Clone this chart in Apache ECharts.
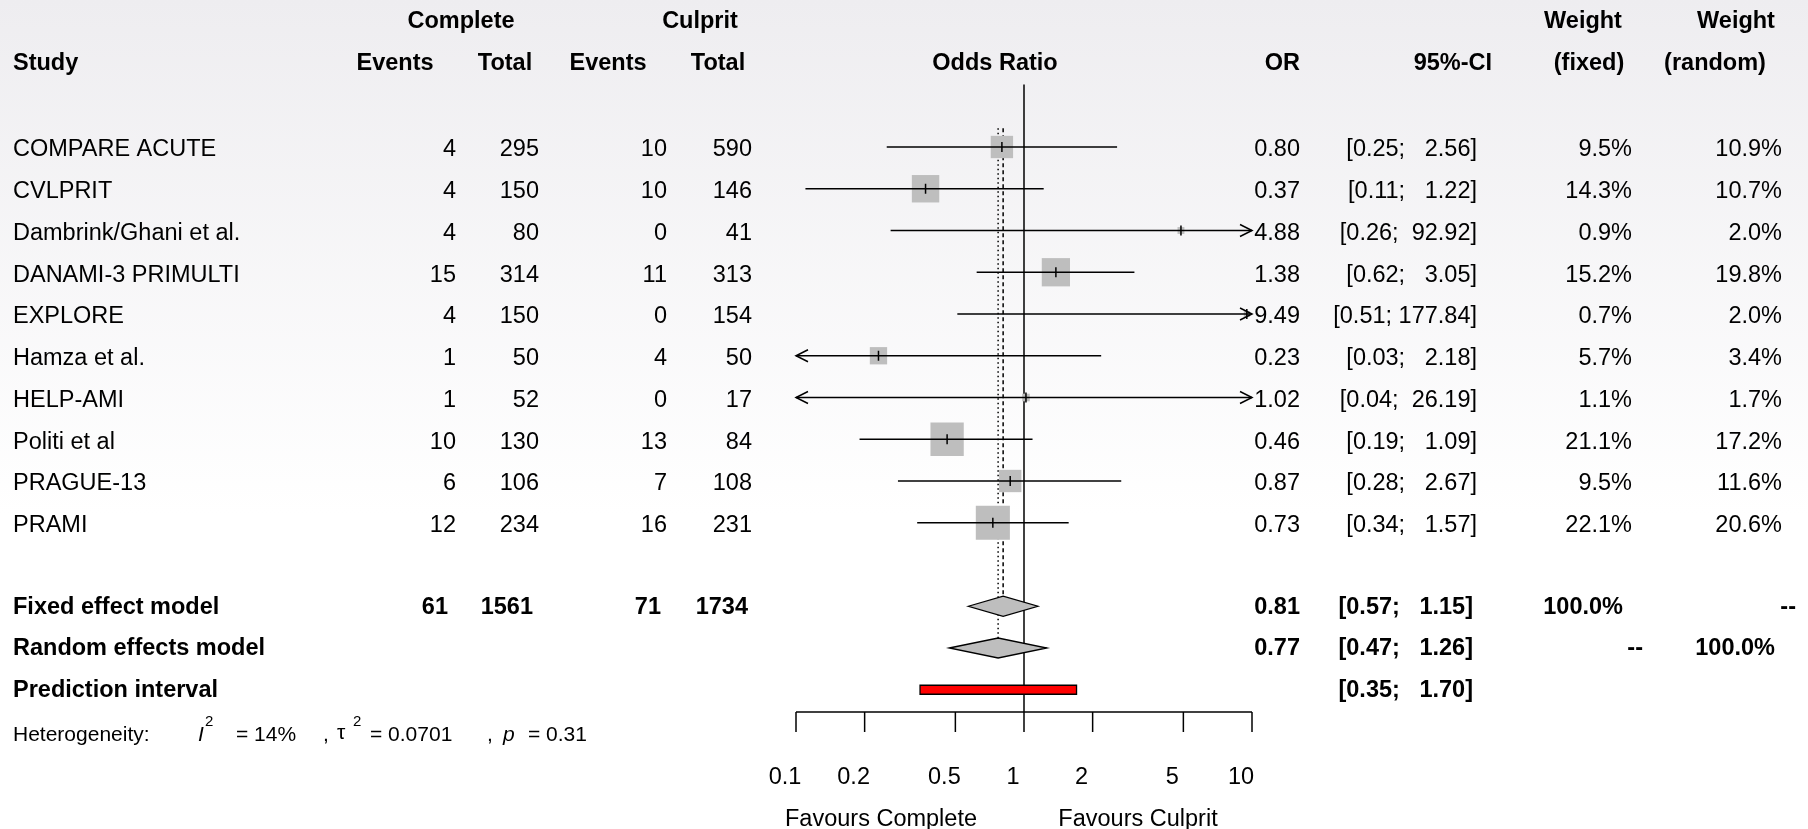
<!DOCTYPE html>
<html lang="en">
<head>
    <title>Forest plot: Complete vs Culprit revascularisation</title>
    <meta charset="utf-8">
    <script src="https://cdn.jsdelivr.net/npm/echarts@6.0.0/dist/echarts.min.js"></script>
    <style>
        html, body {
            margin: 0;
            padding: 0;
        }

        #chart {
            width: 1808px;
            height: 829px;
            background: linear-gradient(to bottom, #eeedf0 0%, #ffffff 62%);
        }
    </style>
</head>
<body>
<div id="chart"></div>
<script>
    // study data
    const studies = ['COMPARE ACUTE', 'CVLPRIT', 'Dambrink/Ghani et al.', 'DANAMI-3 PRIMULTI', 'EXPLORE',
        'Hamza et al.', 'HELP-AMI', 'Politi et al', 'PRAGUE-13', 'PRAMI'];
    const eventsComplete = [4, 4, 4, 15, 4, 1, 1, 10, 6, 12];
    const totalComplete = [295, 150, 80, 314, 150, 50, 52, 130, 106, 234];
    const eventsCulprit = [10, 10, 0, 11, 0, 4, 0, 13, 7, 16];
    const totalCulprit = [590, 146, 41, 313, 154, 50, 17, 84, 108, 231];
    const oddsRatio = [0.80, 0.37, 4.88, 1.38, 9.49, 0.23, 1.02, 0.46, 0.87, 0.73];
    const ciLower = [0.25, 0.11, 0.26, 0.62, 0.51, 0.03, 0.04, 0.19, 0.28, 0.34];
    const ciUpper = [2.56, 1.22, 92.92, 3.05, 177.84, 2.18, 26.19, 1.09, 2.67, 1.57];
    const weightFixed = [9.5, 14.3, 0.9, 15.2, 0.7, 5.7, 1.1, 21.1, 9.5, 22.1];
    const weightRandom = [10.9, 10.7, 2.0, 19.8, 2.0, 3.4, 1.7, 17.2, 11.6, 20.6];

    // pooled results: [OR, lower, upper]
    const fixedModel = [0.81, 0.57, 1.15];
    const randomModel = [0.77, 0.47, 1.26];
    const predictionInterval = [0.35, 1.70];
    const pooledTotals = [61, 1561, 71, 1734];
    const heterogeneity = ['14%', '0.0701', '0.31'];
    const axisTicks = [0.1, 0.2, 0.5, 1, 2, 5, 10];

    // layout
    const ROW0 = 147, ROWH = 41.75, H = 829;
    const yMin = -ROW0 / ROWH, yMax = (H - ROW0) / ROWH;
    const xMin = 0.1, xMax = 10;
    const FONT = "'Liberation Sans', Arial, Helvetica, sans-serif";
    const FS = 23.5;
    const TEXT_DY = 3;        // canvas 'middle' sits a little high for caps
    const SQ = 7.25;          // square side per sqrt(weight)
    const ROW_FIXED = 11, ROW_RANDOM = 12, ROW_PRED = 13, ROW_AXIS = (712 - ROW0) / ROWH;

    function ciText(lo, hi) {
        return '[' + lo.toFixed(2) + '; ' + hi.toFixed(2).padStart(6, ' ') + ']';
    }

    // table cells: x in page pixels, row index
    const cells = [];
    function cell(x, row, text, align, opts) {
        cells.push(Object.assign({x: x, row: row, text: String(text), align: align || 'right'}, opts || {}));
    }
    const HEAD = {bold: true, dy: 0};
    const B = {bold: true, dy: 1};

    // header
    cell(461, -3, 'Complete', 'center', HEAD);
    cell(700, -3, 'Culprit', 'center', HEAD);
    cell(1583, -3, 'Weight', 'center', HEAD);
    cell(1736, -3, 'Weight', 'center', HEAD);
    cell(13, -2, 'Study', 'left', HEAD);
    cell(395, -2, 'Events', 'center', HEAD);
    cell(505, -2, 'Total', 'center', HEAD);
    cell(608, -2, 'Events', 'center', HEAD);
    cell(718, -2, 'Total', 'center', HEAD);
    cell(995, -2, 'Odds Ratio', 'center', HEAD);
    cell(1300, -2, 'OR', 'right', HEAD);
    cell(1492, -2, '95%-CI', 'right', HEAD);
    cell(1589, -2, '(fixed)', 'center', HEAD);
    cell(1715, -2, '(random)', 'center', HEAD);

    // study rows
    studies.forEach(function (name, i) {
        cell(13, i, name, 'left');
        cell(456, i, eventsComplete[i]);
        cell(539, i, totalComplete[i]);
        cell(667, i, eventsCulprit[i]);
        cell(752, i, totalCulprit[i]);
        cell(1300, i, oddsRatio[i].toFixed(2));
        cell(1477, i, ciText(ciLower[i], ciUpper[i]));
        cell(1632, i, weightFixed[i].toFixed(1) + '%');
        cell(1782, i, weightRandom[i].toFixed(1) + '%');
    });

    // pooled rows
    cell(13, ROW_FIXED, 'Fixed effect model', 'left', B);
    cell(448, ROW_FIXED, pooledTotals[0], 'right', B);
    cell(533, ROW_FIXED, pooledTotals[1], 'right', B);
    cell(661, ROW_FIXED, pooledTotals[2], 'right', B);
    cell(748, ROW_FIXED, pooledTotals[3], 'right', B);
    cell(1300, ROW_FIXED, fixedModel[0].toFixed(2), 'right', B);
    cell(1473, ROW_FIXED, ciText(fixedModel[1], fixedModel[2]), 'right', B);
    cell(1623, ROW_FIXED, '100.0%', 'right', B);
    cell(1796, ROW_FIXED, '--', 'right', B);

    cell(13, ROW_RANDOM, 'Random effects model', 'left', B);
    cell(1300, ROW_RANDOM, randomModel[0].toFixed(2), 'right', B);
    cell(1473, ROW_RANDOM, ciText(randomModel[1], randomModel[2]), 'right', B);
    cell(1643, ROW_RANDOM, '--', 'right', B);
    cell(1775, ROW_RANDOM, '100.0%', 'right', B);

    cell(13, ROW_PRED, 'Prediction interval', 'left', B);
    cell(1473, ROW_PRED, ciText(predictionInterval[0], predictionInterval[1]), 'right', B);

    // heterogeneity line
    const HS = 21, SUP = 15;
    cell(13, 14, 'Heterogeneity:', 'left', {size: HS, dy: 4});
    cell(198, 14, 'I', 'left', {size: HS, dy: 4, italic: true});
    cell(205, 14, '2', 'left', {size: SUP, dy: -10});
    cell(236, 14, '= ' + heterogeneity[0], 'left', {size: HS, dy: 4});
    cell(323, 14, ',', 'left', {size: HS, dy: 4});
    cell(337, 14, 'τ', 'left', {size: HS, dy: 2});
    cell(353, 14, '2', 'left', {size: SUP, dy: -10});
    cell(370, 14, '= ' + heterogeneity[1], 'left', {size: HS, dy: 4});
    cell(487, 14, ',', 'left', {size: HS, dy: 4});
    cell(503, 14, 'p', 'left', {size: HS, dy: 4, italic: true});
    cell(528, 14, '= ' + heterogeneity[2], 'left', {size: HS, dy: 4});

    // axis annotations
    cell(881, 16, 'Favours Complete', 'center', {dy: 5});
    cell(1138, 16, 'Favours Culprit', 'center', {dy: 5});

    function clampX(v) {
        return Math.min(Math.max(v, xMin), xMax);
    }

    function arrowHead(x, y, dir) {
        return {
            type: 'polyline',
            shape: {points: [[x - dir * 12, y - 6], [x, y], [x - dir * 12, y + 6]]},
            style: {stroke: '#000', lineWidth: 1.5, fill: null}
        };
    }

    function renderStudy(params, api) {
        const est = api.value(0), row = api.value(1), lo = api.value(2), hi = api.value(3), w = api.value(4);
        const p = api.coord([est, row]);
        const pl = api.coord([clampX(lo), row]);
        const ph = api.coord([clampX(hi), row]);
        const side = SQ * Math.sqrt(w);
        const children = [
            {type: 'rect', shape: {x: p[0] - side / 2, y: p[1] - side / 2, width: side, height: side},
                style: {fill: '#bebebe'}},
            {type: 'line', shape: {x1: pl[0], y1: p[1], x2: ph[0], y2: p[1]},
                style: {stroke: '#000', lineWidth: 1.5}},
            {type: 'line', shape: {x1: p[0], y1: p[1] - 5, x2: p[0], y2: p[1] + 5},
                style: {stroke: '#000', lineWidth: 1.5}}
        ];
        if (lo < xMin) children.push(arrowHead(pl[0], p[1], -1));
        if (hi > xMax) children.push(arrowHead(ph[0], p[1], 1));
        return {type: 'group', children: children};
    }

    function renderDiamond(params, api) {
        const row = api.value(1);
        const c = api.coord([api.value(0), row]);
        const l = api.coord([api.value(2), row]);
        const r = api.coord([api.value(3), row]);
        return {
            type: 'polygon',
            shape: {points: [[l[0], c[1]], [c[0], c[1] - 10], [r[0], c[1]], [c[0], c[1] + 10]]},
            style: {fill: '#bebebe', stroke: '#000', lineWidth: 1.3}
        };
    }

    function renderPrediction(params, api) {
        const row = api.value(2);
        const l = api.coord([api.value(0), row]);
        const r = api.coord([api.value(1), row]);
        return {
            type: 'rect',
            shape: {x: l[0], y: l[1] - 4.5, width: r[0] - l[0], height: 9},
            style: {fill: '#ff0000', stroke: '#000', lineWidth: 1.3}
        };
    }

    // reference lines: [value, fromRow, toRow, kind]
    const refLines = [
        [1, -1.5, ROW_AXIS, 0],
        [fixedModel[0], -0.45, ROW_FIXED - 10 / ROWH, 1],
        [randomModel[0], -0.45, ROW_RANDOM - 10 / ROWH, 2]
    ];
    const dashes = [null, [4, 3], [1.5, 3]];

    function renderRefLine(params, api) {
        const a = api.coord([api.value(0), api.value(1)]);
        const b = api.coord([api.value(0), api.value(2)]);
        return {
            type: 'line',
            shape: {x1: a[0], y1: a[1], x2: b[0], y2: b[1]},
            style: {stroke: '#000', lineWidth: 1.5, lineDash: dashes[api.value(3)]}
        };
    }

    function renderAxis(params, api) {
        const t = api.value(0);
        const p = api.coord([t, ROW_AXIS]);
        const lab = api.coord([t, 15]);
        const children = [
            {type: 'line', shape: {x1: p[0], y1: p[1], x2: p[0], y2: p[1] + 20},
                style: {stroke: '#000', lineWidth: 1.5}},
            {type: 'text', x: lab[0] - 11, y: lab[1] + TEXT_DY + 1,
                style: {text: String(t), fill: '#000', fontSize: FS, fontFamily: FONT,
                    align: 'center', verticalAlign: 'middle'}}
        ];
        if (params.dataIndex === 0) {
            const a = api.coord([xMin, ROW_AXIS]), b = api.coord([xMax, ROW_AXIS]);
            children.push({type: 'line', shape: {x1: a[0], y1: a[1], x2: b[0], y2: b[1]},
                style: {stroke: '#000', lineWidth: 1.5}});
        }
        return {type: 'group', children: children};
    }

    function renderCell(params, api) {
        const c = cells[params.dataIndex];
        const p = api.coord([api.value(0), api.value(1)]);
        return {
            type: 'text',
            x: p[0],
            y: p[1] + (c.dy !== undefined ? c.dy : TEXT_DY),
            style: {
                text: c.text,
                fill: '#000',
                fontSize: c.size || FS,
                fontFamily: FONT,
                fontWeight: c.bold ? 'bold' : 'normal',
                fontStyle: c.italic ? 'italic' : 'normal',
                align: c.align,
                verticalAlign: 'middle'
            }
        };
    }

    const chart = echarts.init(document.getElementById('chart'), null, {renderer: 'canvas'});
    const option = {
        backgroundColor: 'transparent',
        animation: false,
        grid: [
            {left: 796, width: 456, top: 0, height: H},
            {left: 0, width: 1808, top: 0, height: H}
        ],
        xAxis: [
            {gridIndex: 0, type: 'log', logBase: 10, min: xMin, max: xMax, show: false},
            {gridIndex: 1, type: 'value', min: 0, max: 1808, show: false}
        ],
        yAxis: [
            {gridIndex: 0, type: 'value', inverse: true, min: yMin, max: yMax, show: false},
            {gridIndex: 1, type: 'value', inverse: true, min: yMin, max: yMax, show: false}
        ],
        series: [
            {
                type: 'custom', xAxisIndex: 0, yAxisIndex: 0, clip: false, silent: true,
                renderItem: renderRefLine, data: refLines
            },
            {
                type: 'custom', xAxisIndex: 0, yAxisIndex: 0, clip: false, silent: true,
                renderItem: renderStudy,
                data: studies.map(function (s, i) {
                    return [oddsRatio[i], i, ciLower[i], ciUpper[i], weightFixed[i]];
                })
            },
            {
                type: 'custom', xAxisIndex: 0, yAxisIndex: 0, clip: false, silent: true,
                renderItem: renderDiamond,
                data: [
                    [fixedModel[0], ROW_FIXED, fixedModel[1], fixedModel[2]],
                    [randomModel[0], ROW_RANDOM, randomModel[1], randomModel[2]]
                ]
            },
            {
                type: 'custom', xAxisIndex: 0, yAxisIndex: 0, clip: false, silent: true,
                renderItem: renderPrediction,
                data: [[predictionInterval[0], predictionInterval[1], ROW_PRED]]
            },
            {
                type: 'custom', xAxisIndex: 0, yAxisIndex: 0, clip: false, silent: true,
                renderItem: renderAxis,
                data: axisTicks.map(function (t) { return [t]; })
            },
            {
                type: 'custom', xAxisIndex: 1, yAxisIndex: 1, clip: false, silent: true,
                renderItem: renderCell,
                data: cells.map(function (c) { return [c.x, c.row]; })
            }
        ]
    };
    chart.setOption(option);
</script>
</body>
</html>
